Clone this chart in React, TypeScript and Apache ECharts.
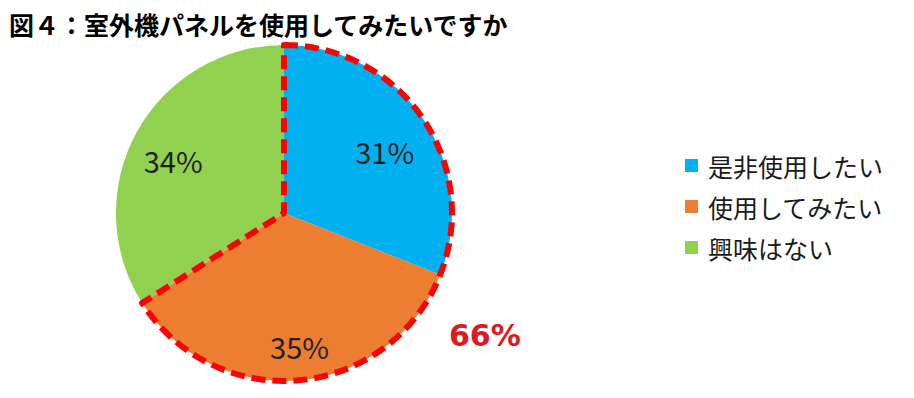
import React, { useEffect, useRef } from "react";
import * as echarts from "echarts";

const titleText = "図４：室外機パネルを使用してみたいですか";
const categories = ["是非使用したい", "使用してみたい", "興味はない"];
const values = [31, 35, 34];
const colors = ["#00B0F0", "#ED7D31", "#92D050"];
// fine shifts [dx, dy] of each inside label
const labelShifts = [
  [-1, 7],
  [4, 11],
  [-3, 6],
];

const FONT = "'Noto Sans CJK JP', 'Noto Sans', sans-serif";

export default function App() {
  const ref = useRef<HTMLDivElement>(null);
  useEffect(() => {
    if (!ref.current) return;
    const chart = echarts.init(ref.current, undefined, { renderer: "svg" });
    const center = [284, 213];
    const R = 168;
    const interested = values[0] + values[1];
    chart.setOption({
      animation: false,
      backgroundColor: "#ffffff",
      title: {
        text: titleText,
        left: 9,
        top: 11,
        padding: 0,
        textStyle: { fontFamily: FONT, fontSize: 25, fontWeight: "bold", color: "#000", lineHeight: 25 },
      },
      legend: {
        orient: "vertical",
        left: 685,
        top: 153,
        padding: 0,
        itemWidth: 13,
        itemHeight: 13,
        itemGap: 16,
        icon: "rect",
        data: categories,
        textStyle: { fontFamily: FONT, fontSize: 25, color: "#1a1a1a", lineHeight: 25, padding: [0, 0, 0, 5] },
      },
      series: [
        {
          type: "pie",
          center,
          radius: R,
          startAngle: 90,
          clockwise: true,
          silent: true,
          label: { show: false },
          labelLine: { show: false },
          itemStyle: { borderWidth: 0 },
          data: categories.map((c, i) => ({ name: c, value: values[i], itemStyle: { color: colors[i] } })),
        },
        {
          type: "pie",
          center,
          radius: R,
          startAngle: 90,
          clockwise: true,
          silent: true,
          z: 3,
          label: { show: false },
          labelLine: { show: false },
          data: [
            {
              name: "outline",
              value: interested,
              itemStyle: { color: "rgba(0,0,0,0)", borderColor: "#FF0000", borderWidth: 6, borderType: [14, 7], borderCap: "butt" },
            },
            { name: "rest", value: values[2], itemStyle: { color: "rgba(0,0,0,0)", borderWidth: 0 } },
          ],
        },
        {
          type: "pie",
          center,
          radius: 240,
          startAngle: 90,
          clockwise: true,
          silent: true,
          z: 4,
          labelLine: { show: false },
          itemStyle: { color: "rgba(0,0,0,0)", borderWidth: 0 },
          data: categories.map((c, i) => ({
            name: "lbl" + i,
            value: values[i],
            label: {
              show: true,
              position: "inside",
              formatter: values[i] + "%",
              fontFamily: FONT,
              fontSize: 29,
              color: "#1f1f1f",
              offset: labelShifts[i],
            },
          })),
        },
        {
          type: "pie",
          center,
          radius: 466,
          startAngle: 90,
          clockwise: true,
          silent: true,
          z: 4,
          labelLine: { show: false },
          itemStyle: { color: "rgba(0,0,0,0)", borderWidth: 0 },
          data: [
            {
              name: "sum",
              value: interested,
              label: {
                show: true,
                position: "inside",
                formatter: interested + "%",
                fontFamily: "'DejaVu Sans', sans-serif",
                fontSize: 30,
                fontWeight: "bold",
                color: "#DD1A22",
                offset: [-6, 9],
              },
            },
            { name: "sumrest", value: values[2], label: { show: false } },
          ],
        },
      ],
    });
    return () => chart.dispose();
  }, []);
  return <div ref={ref} style={{ position: "fixed", left: 0, top: 0, width: 914, height: 398 }} />;
}
